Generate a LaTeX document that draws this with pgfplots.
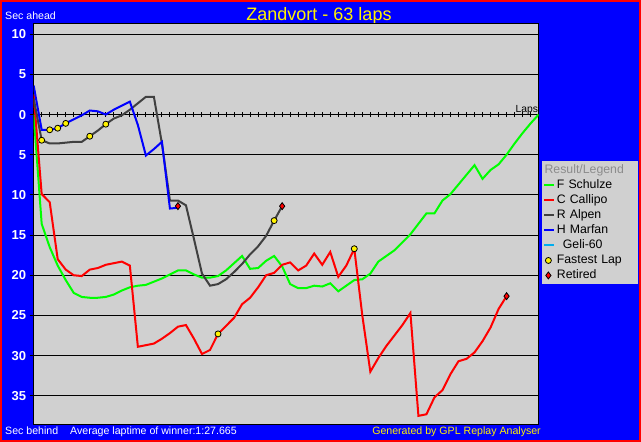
\documentclass[border=0pt]{standalone}
\usepackage{pgfplots}
\pgfplotsset{compat=1.18}
\usepackage{fontspec}
\setmainfont{Liberation Sans}
\definecolor{plotgrey}{RGB}{208,208,208}
\definecolor{dgrey}{RGB}{64,64,64}
\definecolor{titlegrey}{RGB}{140,140,140}
\pgfplotsset{
  markleg/.style={legend image code/.code={\draw[##1] plot coordinates {(4pt,0pt)};}},
  titleleg/.style={legend image code/.code={\node[overlay, anchor=west, inner sep=0, text=titlegrey] at (0pt,0pt) {Result/Legend};}},
}
\begin{document}
\begin{tikzpicture}[x=1pt,y=1pt]
\fill[red] (0,0) rectangle (641,442);
\fill[blue] (2,2) rectangle (639,440);
\node[anchor=base, inner sep=0, text=yellow, font=\fontsize{18}{18}\selectfont] at (319,421.3) {Zandvort - 63 laps};
\node[anchor=base west, inner sep=0, text=white, font=\fontsize{10.6}{11}\selectfont] at (5,422.7) {Sec ahead};
\node[anchor=base west, inner sep=0, text=white, font=\fontsize{10.6}{11}\selectfont] at (5,7.5) {Sec behind};
\node[anchor=base west, inner sep=0, text=white, font=\fontsize{10.6}{11}\selectfont] at (70,7.5) {Average laptime of winner:1:27.665};
\node[anchor=base east, inner sep=0, text=yellow, font=\fontsize{10.6}{11}\selectfont] at (541,7.5) {Generated by GPL Replay Analyser};

% background + zero line with lap ticks
\begin{axis}[
 at={(42,22)}, anchor=south west, scale only axis, width=505pt, height=401pt,
 xmin=0, xmax=63, ymin=-38.55, ymax=11.35,
 axis background/.style={fill=plotgrey},
 axis x line=middle, axis y line=none,
 axis line style={-, black, line width=1pt},
 xtick={1,...,63}, xticklabels=\empty,
 xtick align=center, major tick length=5pt, tick style={black, line width=1pt},
 ytick=\empty,
]
\end{axis}

\begin{axis}[
 at={(42,22)}, anchor=south west, scale only axis, width=505pt, height=401pt,
 xmin=0, xmax=63, ymin=-38.55, ymax=11.35,
 axis line style={black, line width=1pt},
 xtick=\empty,
 ytick={-35,-30,...,10},
 yticklabels={\textbf{35},\textbf{30},\textbf{25},\textbf{20},\textbf{15},\textbf{10},\textbf{5},\textbf{0},\textbf{5},\textbf{10}},
 ytick pos=left, ytick align=outside, major tick length=4pt,
 tick style={black, line width=1pt},
 ymajorgrids, grid style={black, line width=1pt},
 yticklabel style={text=white, font=\fontsize{13}{13}\selectfont\bfseries},
 legend style={at={(1.006,0.656)}, anchor=north west, fill=plotgrey, draw=none,
   font=\fontsize{12.3}{13}\selectfont, inner sep=1.5pt, row sep=0pt,
   nodes={inner sep=1.5pt, text height=9pt, text depth=3pt, text width=78pt}},
 legend cell align=left,
 legend image code/.code={\draw[#1] (0pt,0pt) -- (10pt,0pt);},
]
\addlegendimage{titleleg}
\addlegendentry{}
\addlegendimage{green, line width=2pt}
\addlegendentry{F Schulze}
\addlegendimage{red, line width=2pt}
\addlegendentry{C Callipo}
\addlegendimage{dgrey, line width=2pt}
\addlegendentry{R Alpen}
\addlegendimage{blue, line width=2pt}
\addlegendentry{H Marfan}
\addlegendimage{cyan, line width=2pt}
\addlegendentry{\hspace{6pt}Geli-60}
\addlegendimage{only marks, mark=*, mark size=3pt, mark options={fill=yellow, draw=black, line width=0.8pt}, markleg}
\addlegendentry{Fastest Lap}
\addlegendimage{only marks, mark=diamond*, mark size=3.5pt, mark options={fill=red, draw=black, line width=0.8pt}, markleg}
\addlegendentry{Retired}

% F Schulze
\addplot[green, line width=2pt, forget plot] coordinates {
(0,0)(1,-13.6)(2,-16.5)(3,-18.8)(4,-20.6)(5,-22.2)(6,-22.7)(7,-22.8)(8,-22.8)(9,-22.7)
(10,-22.4)(11,-21.9)(12,-21.5)(13,-21.3)(14,-21.2)(15,-20.8)(16,-20.4)(17,-19.9)(18,-19.4)(19,-19.4)
(20,-19.9)(21,-20.3)(22,-20.3)(23,-20.1)(24,-19.4)(25,-18.5)(26,-17.6)(27,-19.2)(28,-19.1)(29,-18.2)
(30,-17.6)(31,-18.9)(32,-21.1)(33,-21.6)(34,-21.6)(35,-21.3)(36,-21.4)(37,-21.0)(38,-22.0)(39,-21.3)
(40,-20.6)(41,-20.5)(42,-19.8)(43,-18.3)(44,-17.6)(45,-16.9)(46,-15.9)(47,-14.9)(48,-13.6)(49,-12.3)
(50,-12.3)(51,-10.7)(52,-9.9)(53,-8.7)(54,-7.5)(55,-6.3)(56,-8.0)(57,-6.9)(58,-6.2)(59,-5.0)
(60,-3.6)(61,-2.3)(62,-1.1)(63,0)};
% C Callipo
\addplot[red, line width=2pt, forget plot] coordinates {
(0,2.5)(1,-9.9)(2,-10.9)(3,-18.0)(4,-19.3)(5,-20.0)(6,-20.1)(7,-19.3)(8,-19.1)(9,-18.7)
(10,-18.5)(11,-18.3)(12,-18.8)(13,-28.9)(14,-28.7)(15,-28.5)(16,-27.9)(17,-27.2)(18,-26.4)(19,-26.2)
(20,-27.9)(21,-29.8)(22,-29.3)(23,-27.3)(24,-26.3)(25,-25.3)(26,-23.6)(27,-22.8)(28,-21.5)(29,-20.0)
(30,-19.7)(31,-18.7)(32,-18.4)(33,-19.4)(34,-18.8)(35,-17.3)(36,-18.7)(37,-17.1)(38,-20.2)(39,-18.8)
(40,-16.7)(41,-25.0)(42,-32.0)(43,-30.3)(44,-28.8)(45,-27.5)(46,-26.2)(47,-24.7)(48,-37.5)(49,-37.3)
(50,-35.2)(51,-34.3)(52,-32.3)(53,-30.7)(54,-30.4)(55,-29.6)(56,-28.2)(57,-26.5)(58,-24.2)(59,-22.6)};
% R Alpen
\addplot[dgrey, line width=2pt, forget plot] coordinates {
(0,2.0)(1,-3.2)(2,-3.6)(3,-3.6)(4,-3.5)(5,-3.4)(6,-3.4)(7,-2.7)(8,-2.0)(9,-1.2)
(10,-0.5)(11,-0.1)(12,0.6)(13,1.4)(14,2.2)(15,2.2)(16,-3.6)(17,-10.7)(18,-10.7)(19,-11.3)
(20,-15.5)(21,-19.8)(22,-21.3)(23,-21.1)(24,-20.5)(25,-19.6)(26,-18.6)(27,-17.4)(28,-16.4)(29,-15.1)
(30,-13.2)(31,-11.4)};
% H Marfan
\addplot[blue, line width=2pt, forget plot] coordinates {
(0,3.6)(1,-1.9)(2,-1.9)(3,-1.7)(4,-1.1)(5,-0.6)(6,-0.1)(7,0.5)(8,0.4)(9,0.0)
(10,0.6)(11,1.1)(12,1.6)(13,-1.3)(14,-5.1)(15,-4.3)(16,-3.4)(17,-11.7)(18,-11.6)};
% fastest laps
\addplot[only marks, mark=*, mark size=3pt, mark options={fill=yellow, draw=black, line width=0.8pt}, forget plot] coordinates {
(1,-3.2)(2,-1.9)(3,-1.7)(4,-1.1)(7,-2.7)(9,-1.2)(23,-27.3)(30,-13.2)(40,-16.7)};
% retired
\addplot[only marks, mark=diamond*, mark size=3.5pt, mark options={fill=red, draw=black, line width=0.8pt}, forget plot] coordinates {
(18,-11.4)(31,-11.4)(59,-22.6)};
\node[anchor=base east, inner sep=0, font=\fontsize{10.3}{11}\selectfont] at (axis cs:62.95,0.3) {Laps};
\end{axis}
\end{tikzpicture}
\end{document}
